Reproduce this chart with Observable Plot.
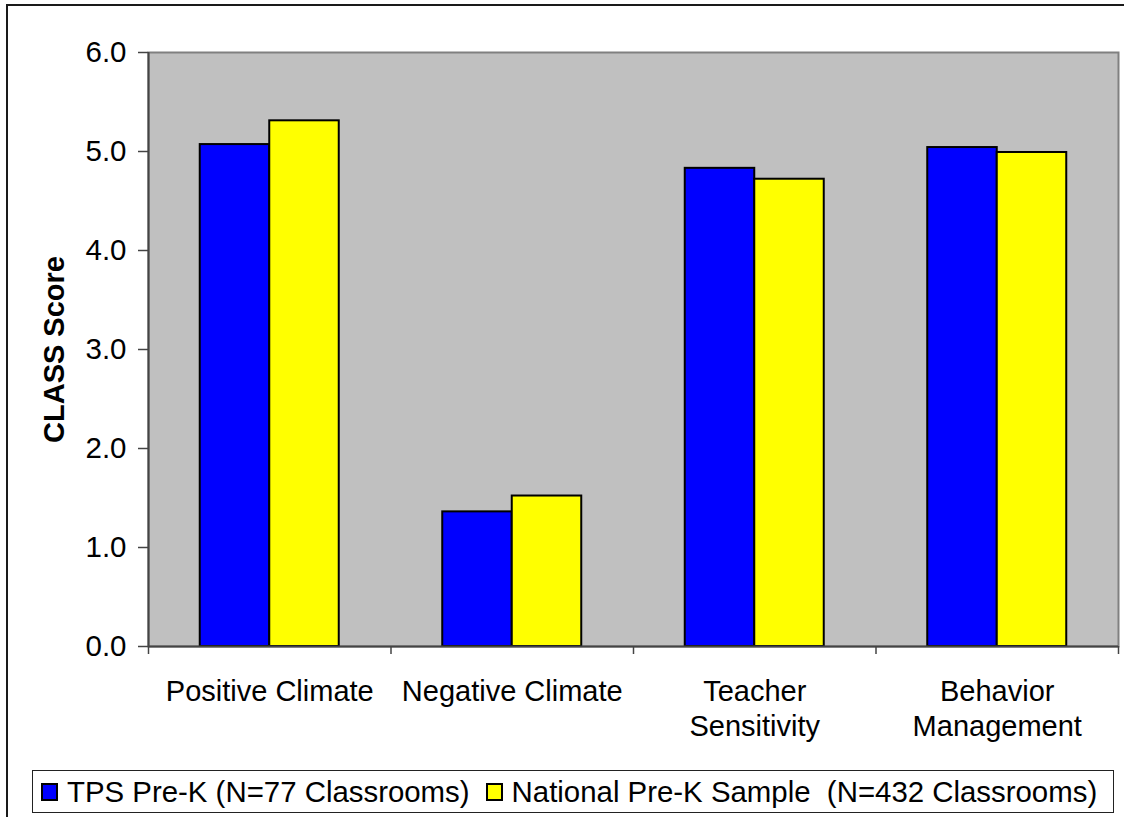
<!DOCTYPE html>
<html>
<head>
<meta charset="utf-8">
<script src="https://cdn.jsdelivr.net/npm/d3@7"></script>
<script src="https://cdn.jsdelivr.net/npm/@observablehq/plot@0.6"></script>
<style>
html, body { margin: 0; padding: 0; background: #fff; overflow: hidden; }
#wrap { position: relative; width: 1124px; height: 817px; font-family: "Liberation Sans", Arial, sans-serif; }
#chart { position: absolute; left: 0; top: 0; }
#border { position: absolute; left: 6px; top: 4px; width: 1200px; height: 900px; border-left: 2px solid #1a1a1a; border-top: 2px solid #1a1a1a; pointer-events: none; }
#legend { position: absolute; left: 32px; top: 770px; width: 1082px; height: 43px; box-sizing: border-box; border: 1.5px solid #222; background: #fff; display: flex; align-items: center; font-size: 29.4px; white-space: pre; color: #000; }
#legend .sw { width: 17px; height: 18px; box-sizing: border-box; border: 2.5px solid #000; display: inline-block; flex: none; }
</style>
</head>
<body>
<div id="wrap">
  <div id="chart"></div>
  <div id="legend"></div>
  <div id="border"></div>
</div>
<script>
// ---- data ----
const categories = ["Positive Climate", "Negative Climate", "Teacher Sensitivity", "Behavior Management"];
const tickLabels = ["Positive Climate", "Negative Climate", "Teacher\nSensitivity", "Behavior\nManagement"];
const seriesNames = ["TPS Pre-K (N=77 Classrooms)", "National Pre-K Sample  (N=432 Classrooms)"];
const seriesColors = ["#0000ff", "#ffff00"];
const tps = [5.07, 1.36, 4.83, 5.04];
const national = [5.31, 1.52, 4.72, 4.99];
const yTicks = [0, 1, 2, 3, 4, 5, 6];
const yLabel = "CLASS Score";

// ---- table ----
const rows = categories.flatMap((c, i) => [
  {category: c, index: i, slot: 0, series: seriesNames[0], value: tps[i]},
  {category: c, index: i, slot: 1, series: seriesNames[1], value: national[i]}
]);
const barWidth = 0.2866; // width of each bar, in category units
const font = '"Liberation Sans", Arial, sans-serif';

const chart = Plot.plot({
  width: 1124,
  height: 760,
  marginLeft: 148,
  marginRight: 6,
  marginTop: 52,
  marginBottom: 114,
  style: {fontFamily: font, fontSize: "29px", color: "#000", background: "transparent", overflow: "visible"},
  x: {domain: [0, categories.length]},
  y: {domain: [0, 6]},
  color: {domain: seriesNames, range: seriesColors},
  marks: [
    Plot.frame({fill: "#c0c0c0", stroke: "#808080", strokeWidth: 2}),
    Plot.rectY(rows, {
      x1: d => d.index + 0.5 + (d.slot - 1) * barWidth,
      x2: d => d.index + 0.5 + d.slot * barWidth,
      y1: 0,
      y2: "value",
      fill: "series",
      stroke: "#000",
      strokeWidth: 2
    }),
    Plot.ruleX([0], {stroke: "#444", strokeWidth: 2}),
    Plot.ruleY([0], {stroke: "#444", strokeWidth: 2}),
    Plot.axisY({ticks: yTicks, tickFormat: d3.format(".1f"), tickSize: 10, tickPadding: 12, stroke: "#444", strokeWidth: 1.5, fontSize: 29.5, label: null}),
    Plot.axisX({ticks: d3.range(categories.length + 1), tickFormat: () => "", tickSize: 8, stroke: "#444", strokeWidth: 1.5, label: null}),
    Plot.text(categories, {x: (d, i) => i + 0.5, y: 0, text: (d, i) => tickLabels[i], lineAnchor: "top", dy: 29, fontSize: 29, lineHeight: 1.22, fill: "#000"}),
    Plot.text([yLabel], {text: d => d, frameAnchor: "left", textAnchor: "middle", rotate: -90, dx: -94, fontWeight: "bold", fontSize: 29, fill: "#000"})
  ]
});
document.getElementById("chart").appendChild(chart);

// ---- legend ----
const legend = document.getElementById("legend");
seriesNames.forEach((name, i) => {
  const sw = document.createElement("span");
  sw.className = "sw";
  sw.style.background = seriesColors[i];
  sw.style.marginLeft = i === 0 ? "8px" : "16px";
  legend.appendChild(sw);
  const t = document.createElement("span");
  t.textContent = name;
  t.style.marginLeft = "9px";
  legend.appendChild(t);
});
</script>
</body>
</html>
